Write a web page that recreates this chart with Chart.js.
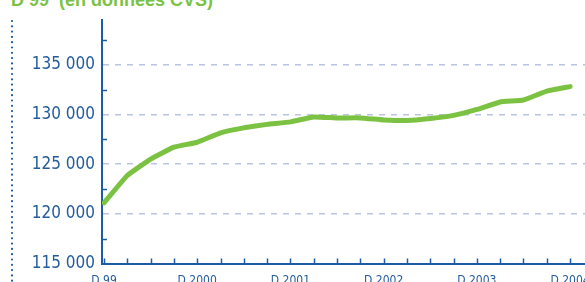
<!DOCTYPE html>
<html>
<head>
<meta charset="utf-8">
<script src="https://cdn.jsdelivr.net/npm/chart.js@4"></script>
<style>
  html, body { margin: 0; padding: 0; background: #fff; overflow: hidden; width: 585px; height: 282px; }
  #wrap { position: absolute; left: 0; top: 0; width: 585px; height: 300px; }
  #title { position: absolute; left: 11px; top: -9px; font: bold 18px "Liberation Sans", Arial, sans-serif; color: #7cc242; line-height: 18px; white-space: pre; }
</style>
</head>
<body>
<div id="title">D 99  (en données CVS)</div>
<div id="wrap"><canvas id="c" width="585" height="300"></canvas></div>
<script>
// Quarterly series, D 99 .. D 2004
const quarters = ["D 99","M 2000","J 2000","S 2000","D 2000","M 2001","J 2001","S 2001","D 2001","M 2002","J 2002","S 2002","D 2002","M 2003","J 2003","S 2003","D 2003","M 2004","J 2004","S 2004","D 2004"];
const values = [121100,123850,125500,126700,127200,128150,128650,129000,129250,129750,129650,129650,129450,129380,129580,129900,130500,131250,131450,132350,132800];
const xTickLabels = {0:"D 99",4:"D 2000",8:"D 2001",12:"D 2002",16:"D 2003",20:"D 2004"};
const yLabelled = [115000,120000,125000,130000,135000];

const BLUE = '#1c5ba6';
const TEXTBLUE = '#245c9c';

const decor = {
  id: 'decor',
  afterDraw(chart) {
    const ctx = chart.ctx;
    const xs = chart.scales.x, ys = chart.scales.y;
    const bottom = chart.chartArea.bottom, left = chart.chartArea.left;
    ctx.save();
    ctx.strokeStyle = BLUE;
    ctx.lineWidth = 1.5;
    // x-axis quarterly ticks pointing up
    for (let i = 0; i < quarters.length; i++) {
      const px = Math.round(xs.getPixelForValue(i)) + 0.5;
      ctx.beginPath(); ctx.moveTo(px, bottom); ctx.lineTo(px, bottom - 5); ctx.stroke();
    }
    // y-axis minor ticks (half-steps) pointing right
    for (let v = ys.min + 2500; v < ys.max; v += 5000) {
      const py = Math.round(ys.getPixelForValue(v)) + 0.5;
      ctx.beginPath(); ctx.moveTo(left, py); ctx.lineTo(left + 5, py); ctx.stroke();
    }
    // dotted vertical rule at the left
    ctx.strokeStyle = '#1c5ba6';
    ctx.lineWidth = 2.2;
    ctx.lineCap = 'round';
    ctx.setLineDash([0, 5.3]);
    ctx.beginPath(); ctx.moveTo(12, 21); ctx.lineTo(12, 300); ctx.stroke();
    ctx.restore();
  }
};

new Chart(document.getElementById('c'), {
  type: 'line',
  data: {
    datasets: [{
      data: values.map((v, i) => ({x: i, y: v})),
      borderColor: '#7cc242',
      borderWidth: 5,
      pointRadius: 0,
      tension: 0.1,
      borderCapStyle: 'round',
      borderJoinStyle: 'round',
      fill: false
    }]
  },
  options: {
    responsive: false,
    animation: false,
    devicePixelRatio: 1,
    layout: { padding: { top: 20, right: 0, left: 0, bottom: 0 } },
    plugins: { legend: { display: false }, tooltip: { enabled: false } },
    scales: {
      x: {
        type: 'linear',
        min: -0.086,
        max: 20.64,
        afterBuildTicks(scale) {
          scale.ticks = quarters.map((q, i) => ({value: i}));
        },
        afterFit(scale) { scale.height = 36.5; scale.paddingRight = 0; scale.paddingLeft = 0; },
        grid: { display: false, drawTicks: false },
        border: { display: true, color: BLUE, width: 2 },
        ticks: {
          autoSkip: false,
          maxRotation: 0,
          padding: 10,
          color: TEXTBLUE,
          font: { family: '"Liberation Sans Narrow", "DejaVu Sans Condensed", sans-serif', size: 12 },
          callback: (v) => xTickLabels[v] !== undefined ? xTickLabels[v] : ''
        }
      },
      y: {
        min: 115000,
        max: 139500,
        afterBuildTicks(scale) {
          scale.ticks = yLabelled.map(v => ({value: v}));
        },
        afterFit(scale) { scale.width = 102; },
        grid: {
          drawTicks: false,
          color: (c) => (c.tick && c.tick.value > 115000) ? '#b9c5e0' : 'rgba(0,0,0,0)',
          lineWidth: 1.5
        },
        border: { display: true, color: BLUE, width: 2, dash: [6, 6] },
        ticks: {
          padding: 7,
          color: TEXTBLUE,
          font: { family: '"Liberation Sans Narrow", "DejaVu Sans Condensed", sans-serif', size: 17 },
          callback: (v) => String(v).replace(/(\d)(?=(\d{3})+$)/g, '$1 ')
        }
      }
    }
  },
  plugins: [decor]
});
</script>
</body>
</html>
